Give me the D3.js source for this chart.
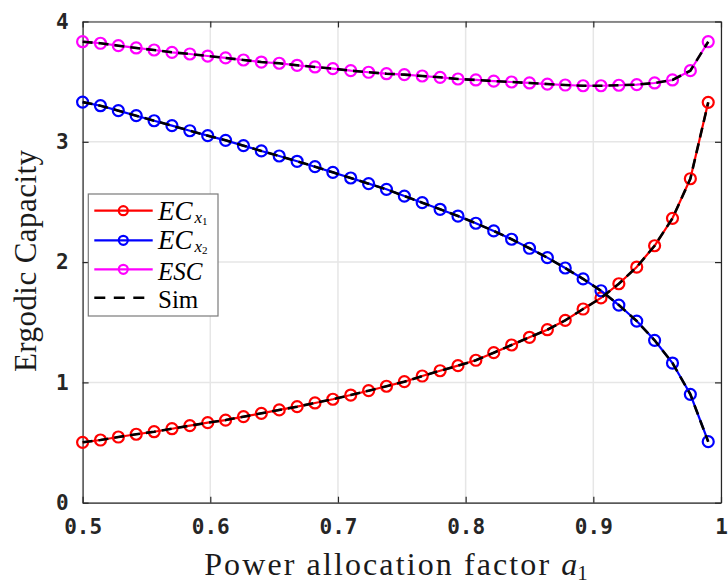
<!DOCTYPE html>
<html><head><meta charset="utf-8">
<script src="https://cdn.jsdelivr.net/npm/d3@7"></script>
<style>body{margin:0;background:#fff}</style>
</head><body><svg id="c" width="728" height="585"></svg>
<script>
const xValues = d3.range(36).map(k => +(0.5 + 0.014 * k).toFixed(3));
const ecX1 = [0.502,0.521,0.546,0.569,0.590,0.615,0.640,0.665,0.687,0.715,0.743,0.771,0.798,0.829,0.860,0.895,0.931,0.968,1.006,1.053,1.097,1.139,1.184,1.247,1.311,1.375,1.438,1.516,1.610,1.702,1.820,1.959,2.136,2.364,2.693,3.328];
const ecX2 = [3.330,3.300,3.259,3.217,3.175,3.134,3.092,3.051,3.012,2.968,2.924,2.882,2.838,2.793,2.746,2.699,2.652,2.605,2.549,2.494,2.439,2.383,2.323,2.259,2.190,2.115,2.037,1.951,1.860,1.762,1.643,1.510,1.350,1.161,0.901,0.507];
const esc = [3.832,3.819,3.799,3.780,3.763,3.744,3.730,3.713,3.697,3.680,3.663,3.653,3.636,3.622,3.608,3.591,3.578,3.566,3.558,3.547,3.536,3.522,3.514,3.505,3.497,3.489,3.480,3.472,3.466,3.466,3.470,3.475,3.489,3.514,3.591,3.832];
const xTicks = [0.5,0.6,0.7,0.8,0.9,1];
const yTicks = [0,1,2,3,4];
const xTickLabels = ["0.5","0.6","0.7","0.8","0.9","1"];
const seriesColors = ["#ff0000","#0000ff","#ff00ff"];

const svg = d3.select("#c");
const L = 82.6, R = 721, T = 21.5, B = 502.7;
const x = d3.scaleLinear().domain([0.5,1]).range([L,R]);
const y = d3.scaleLinear().domain([0,4]).range([B,T]);
const axisCol = "#262626";

// grid
const g = svg.append("g");
g.selectAll(".gx").data(xTicks).enter().append("line")
  .attr("x1",d=>x(d)).attr("x2",d=>x(d)).attr("y1",T).attr("y2",B)
  .attr("stroke","#e6e6e6").attr("stroke-width",1.5);
g.selectAll(".gy").data(yTicks).enter().append("line")
  .attr("y1",d=>y(d)).attr("y2",d=>y(d)).attr("x1",L).attr("x2",R)
  .attr("stroke","#e6e6e6").attr("stroke-width",1.5);

// axes with inward ticks
const tickFont = "bold 21px 'DejaVu Sans Mono'";
const xAxis = d3.axisBottom(x).tickValues(xTicks).tickSizeInner(-6).tickSizeOuter(0).tickPadding(16)
  .tickFormat((d,i)=>xTickLabels[i]);
const yAxis = d3.axisLeft(y).tickValues(yTicks).tickSizeInner(-6).tickSizeOuter(0).tickPadding(14)
  .tickFormat(d3.format("d"));
const xa = svg.append("g").attr("transform",`translate(0,${B})`).call(xAxis);
const ya = svg.append("g").attr("transform",`translate(${L},0)`).call(yAxis);
const xt = svg.append("g").attr("transform",`translate(0,${T})`).call(d3.axisTop(x).tickValues(xTicks).tickSizeInner(-6).tickSizeOuter(0).tickFormat(""));
const yr = svg.append("g").attr("transform",`translate(${R},0)`).call(d3.axisRight(y).tickValues(yTicks).tickSizeInner(-6).tickSizeOuter(0).tickFormat(""));
[xa,ya,xt,yr].forEach(a=>{
  a.selectAll("path,line").attr("stroke",axisCol).attr("stroke-width",1.2);
  a.selectAll("text").style("font",tickFont).attr("fill",axisCol);
});

// series
const series = [ecX1, ecX2, esc];
const line = d3.line().x((d,i)=>x(xValues[i])).y(d=>y(d));
series.forEach((s,si)=>{
  svg.append("path").datum(s).attr("d",line).attr("fill","none")
    .attr("stroke",seriesColors[si]).attr("stroke-width",2.2);
  svg.append("g").selectAll("circle").data(s).enter().append("circle")
    .attr("cx",(d,i)=>x(xValues[i])).attr("cy",d=>y(d)).attr("r",5.5)
    .attr("fill","none").attr("stroke",seriesColors[si]).attr("stroke-width",2.2);
});
series.forEach(s=>{
  svg.append("path").datum(s).attr("d",line).attr("fill","none")
    .attr("stroke","#000").attr("stroke-width",2.6).attr("stroke-dasharray","10,6");
});

// legend
const lg = svg.append("g");
lg.append("rect").attr("x",88.3).attr("y",194).attr("width",129.7).attr("height",122)
  .attr("fill","#fff").attr("stroke","#7a7a7a").attr("stroke-width",1.2);
const rows = [210.7,240.3,269.3,297.7];
const serif = "'Liberation Serif', 'DejaVu Serif', serif";
rows.forEach((ry,i)=>{
  if(i<3){
    lg.append("line").attr("x1",94.3).attr("x2",152.7).attr("y1",ry).attr("y2",ry)
      .attr("stroke",seriesColors[i]).attr("stroke-width",2.2);
    lg.append("circle").attr("cx",123.3).attr("cy",ry).attr("r",4.5).attr("fill","none")
      .attr("stroke",seriesColors[i]).attr("stroke-width",2.2);
  } else {
    lg.append("line").attr("x1",94.3).attr("x2",152.7).attr("y1",ry).attr("y2",ry)
      .attr("stroke","#000").attr("stroke-width",2.6).attr("stroke-dasharray","11,8.5");
  }
});
function legText(i, size, off){
  return lg.append("text").attr("x",158).attr("y",rows[i]+(off||9))
    .style("font-family",serif).style("font-size",(size||28)+"px").attr("fill","#000");
}
[1,2].forEach((n,i)=>{
  const t = legText(i, 27);
  t.append("tspan").style("font-style","italic").text("EC");
  t.append("tspan").style("font-style","italic").style("font-size","17px").attr("dx",2).attr("dy",3).text("x");
  t.append("tspan").style("font-size","11px").attr("dy",2).text(String(n));
});
legText(2, 25, 10.5).append("tspan").style("font-style","italic").text("ESC");
legText(3, 25, 10).text("Sim");

// axis titles
svg.append("text").attr("transform","translate(36,261) rotate(-90)").attr("text-anchor","middle")
  .attr("textLength",222).attr("lengthAdjust","spacing")
  .style("font-family",serif).style("font-size","31px").attr("fill","#1a1a1a").text("Ergodic Capacity");
const xtl = svg.append("text").attr("x",396).attr("y",575).attr("text-anchor","middle")
  .style("font-family",serif).style("font-size","32px").attr("fill","#1a1a1a");
xtl.append("tspan").attr("textLength",355).attr("lengthAdjust","spacing").text("Power allocation factor ");
xtl.append("tspan").style("font-style","italic").text("a");
xtl.append("tspan").style("font-size","21px").attr("dy",5).text("1");
</script></body></html>
